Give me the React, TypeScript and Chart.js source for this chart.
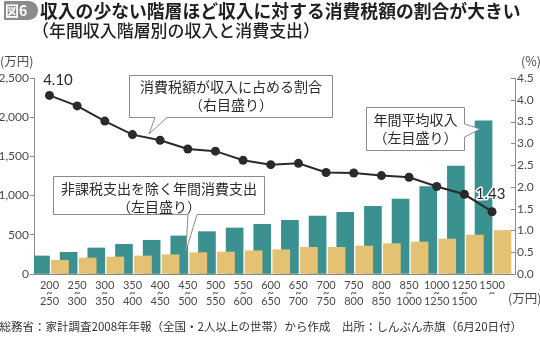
import React, { useEffect, useRef } from "react";
import { Chart, registerables } from "chart.js";

Chart.register(...registerables);

// ---- data ----
const bracketFrom = ["200", "250", "300", "350", "400", "450", "500", "550", "600", "650", "700", "750", "800", "850", "1000", "1250", "1500"];
const bracketTo = ["250", "300", "350", "400", "450", "500", "550", "600", "650", "700", "750", "800", "850", "1000", "1250", "1500", ""];
const annualIncome = [230, 277, 332, 379, 430, 485, 540, 587, 634, 685, 740, 787, 863, 957, 1114, 1378, 1955];
const consumption = [175, 204, 217, 230, 246, 272, 281, 297, 310, 340, 340, 357, 387, 408, 446, 497, 555];
const taxShare = [4.1, 3.86, 3.51, 3.2, 3.07, 2.87, 2.82, 2.61, 2.51, 2.54, 2.33, 2.32, 2.26, 2.22, 2.01, 1.83, 1.43];
const leftMax = 2500;
const leftStep = 500;
const rightMax = 4.5;
const rightStep = 0.5;

// ---- text ----
const BADGE = "図6";
const TITLE = "収入の少ない階層ほど収入に対する消費税額の割合が大きい";
const SUBTITLE = "（年間収入階層別の収入と消費支出）";
const SOURCE = "総務省：家計調査2008年年報（全国・2人以上の世帯）から作成　出所：しんぶん赤旗（6月20日付）";
const LEFT_UNIT = "(万円)";
const RIGHT_UNIT = "(%)";
const X_UNIT = "(万円)";
const NOTE_RATE = ["消費税額が収入に占める割合", "（右目盛り）"];
const NOTE_INCOME = ["年間平均収入", "（左目盛り）"];
const NOTE_SPEND = ["非課税支出を除く年間消費支出", "（左目盛り）"];
const TILDE = "~";

// ---- style ----
const TEAL = "#3a918f";
const YELLOW = "#e5c273";
const LINE = "#2a2a2a";
const AXIS = "#8a8a8a";
const TICK_TEXT = "#4a4a4a";
const TEXT = "#2b2b2b";
const CJK = "'Noto Sans CJK JP', 'Noto Sans', sans-serif";
const NUM = "Lato, 'Noto Sans', sans-serif";

const X_MIN = -0.56;
const X_MAX = 16.83;
const SHIFT = 2 / 27.66;

function fitText(ctx: CanvasRenderingContext2D, text: string, x: number, y: number, width: number, weight: string, family: string, base: number) {
  ctx.font = `${weight} ${base}px ${family}`;
  const w = ctx.measureText(text).width;
  const size = (base * width) / w;
  ctx.font = `${weight} ${size.toFixed(2)}px ${family}`;
  ctx.fillText(text, x, y);
}

function callout(ctx: CanvasRenderingContext2D, box: number[], tail: number[], side: "bottom" | "right", lines: string[], ys: number[]) {
  const [x1, y1, x2, y2] = box.map((v) => Math.round(v) + 0.5);
  const [a, b, tx, ty] = tail;
  ctx.beginPath();
  ctx.moveTo(x1, y1);
  ctx.lineTo(x2, y1);
  if (side === "right") {
    ctx.lineTo(x2, a);
    ctx.lineTo(tx, ty);
    ctx.lineTo(x2, b);
    ctx.lineTo(x2, y2);
    ctx.lineTo(x1, y2);
  } else {
    ctx.lineTo(x2, y2);
    ctx.lineTo(b, y2);
    ctx.lineTo(tx, ty);
    ctx.lineTo(a, y2);
    ctx.lineTo(x1, y2);
  }
  ctx.closePath();
  ctx.fillStyle = "#ffffff";
  ctx.fill();
  ctx.strokeStyle = AXIS;
  ctx.lineWidth = 1;
  ctx.stroke();
  ctx.fillStyle = TEXT;
  ctx.font = `400 14px ${CJK}`;
  ctx.textAlign = "center";
  ctx.textBaseline = "middle";
  const cx = (x1 + x2) / 2;
  lines.forEach((l, i) => ctx.fillText(l, cx, ys[i]));
}

const overlay = {
  id: "overlay",
  afterDraw(chart: any) {
    const ctx: CanvasRenderingContext2D = chart.ctx;
    ctx.save();

    // badge
    ctx.beginPath();
    (ctx as any).roundRect(4, 1, 34, 19, [1, 9, 9, 1]);
    ctx.fillStyle = "#8b8b8b";
    ctx.fill();
    ctx.fillStyle = "#ffffff";
    ctx.textBaseline = "middle";
    ctx.textAlign = "left";
    ctx.font = `700 14px ${CJK}`;
    ctx.fillText(BADGE, 5, 11);

    // title & subtitle
    ctx.fillStyle = "#231f20";
    fitText(ctx, TITLE, 40, 11.5, 481, "700", CJK, 18);
    fitText(ctx, SUBTITLE, 32, 31, 288, "500", CJK, 17);

    // units
    ctx.fillStyle = TICK_TEXT;
    ctx.font = `400 12.5px ${CJK}`;
    ctx.fillText(LEFT_UNIT, 0, 61);
    ctx.fillText(RIGHT_UNIT, 521, 61);
    ctx.fillText(X_UNIT, 508, 298);

    // footer
    ctx.fillStyle = "#333333";
    fitText(ctx, SOURCE, -0.5, 327, 523, "400", CJK, 12.5);

    // inner tick marks on right axis
    const r = chart.scales.y1;
    ctx.strokeStyle = AXIS;
    ctx.lineWidth = 1;
    r.ticks.forEach((t: any) => {
      const y = Math.round(r.getPixelForValue(t.value)) + 0.5;
      ctx.beginPath();
      ctx.moveTo(r.left - 4, y);
      ctx.lineTo(r.left, y);
      ctx.stroke();
    });

    // callouts
    callout(ctx, [129, 75, 332, 117], [155, 167, 149, 134], "bottom", NOTE_RATE, [87, 105]);
    callout(ctx, [366, 107, 464, 150], [124, 137, 480, 129], "right", NOTE_INCOME, [120, 137.5]);
    callout(ctx, [53, 176, 264, 214], [188, 197, 186, 251], "bottom", NOTE_SPEND, [188.5, 207]);

    // data labels for first / last rate
    const meta = chart.getDatasetMeta(2);
    const first = meta.data[0];
    const last = meta.data[meta.data.length - 1];
    ctx.font = `400 15px ${NUM}`;
    ctx.textAlign = "center";
    ctx.textBaseline = "middle";
    const lbl = (s: string, x: number, y: number) => {
      ctx.lineWidth = 3;
      ctx.strokeStyle = "#ffffff";
      ctx.lineJoin = "round";
      ctx.strokeText(s, x, y);
      ctx.fillStyle = TEXT;
      ctx.fillText(s, x, y);
    };
    lbl(taxShare[0].toFixed(2), first.x + 8.5, first.y - 15);
    lbl(taxShare[taxShare.length - 1].toFixed(2), last.x - 1.5, last.y - 18);

    ctx.restore();
  },
};

export default function App() {
  const ref = useRef<HTMLCanvasElement>(null);

  useEffect(() => {
    document.body.style.margin = "0";
    const canvas = ref.current!;
    const chart = new Chart(canvas, {
      type: "bar",
      data: {
        datasets: [
          {
            type: "bar",
            data: annualIncome.map((v, i) => ({ x: i, y: v })),
            backgroundColor: TEAL,
            barThickness: 17,
            xAxisID: "x",
            yAxisID: "y",
            order: 3,
          },
          {
            type: "bar",
            data: consumption.map((v, i) => ({ x: i, y: v })),
            backgroundColor: YELLOW,
            barThickness: 17,
            xAxisID: "x2",
            yAxisID: "y",
            order: 2,
          },
          {
            type: "line",
            data: taxShare.map((v, i) => ({ x: i, y: v })),
            borderColor: LINE,
            borderWidth: 2,
            pointRadius: 4.5,
            pointBackgroundColor: LINE,
            pointBorderWidth: 0,
            tension: 0,
            xAxisID: "x",
            yAxisID: "y1",
            order: 1,
          },
        ] as any,
      },
      options: {
        animation: false,
        responsive: false,
        devicePixelRatio: 1,
        layout: { padding: { top: 78, left: 0, right: 0, bottom: 0 } },
        plugins: { legend: { display: false }, tooltip: { enabled: false } },
        scales: {
          x: {
            type: "linear",
            min: X_MIN,
            max: X_MAX,
            offset: false,
            afterBuildTicks: (s: any) => {
              s.ticks = bracketFrom.map((_, i) => ({ value: i }));
            },
            afterFit: (s: any) => {
              s.height = 66;
            },
            grid: { display: false, drawTicks: false },
            border: { display: true, color: AXIS, width: 1 },
            ticks: {
              autoSkip: false,
              maxRotation: 0,
              padding: 7,
              color: TICK_TEXT,
              font: { family: NUM, size: 11, lineHeight: 0.76 },
              callback: (v: any) => {
                const i = Math.round(Number(v));
                const to = bracketTo[i];
                return to ? [bracketFrom[i], TILDE, to] : [bracketFrom[i], TILDE];
              },
            },
          },
          x2: {
            type: "linear",
            display: false,
            min: X_MIN - SHIFT,
            max: X_MAX - SHIFT,
            offset: false,
          },
          y: {
            position: "left",
            min: 0,
            max: leftMax,
            afterFit: (s: any) => {
              s.width = 34;
            },
            grid: { drawOnChartArea: false, drawTicks: true, tickLength: 4, color: AXIS },
            border: { display: true, color: AXIS, width: 1 },
            ticks: {
              stepSize: leftStep,
              padding: 1,
              color: TICK_TEXT,
              font: { family: NUM, size: 12 },
              callback: (v: any) => Number(v).toLocaleString("en-US"),
            },
          },
          y1: {
            position: "right",
            min: 0,
            max: rightMax,
            afterFit: (s: any) => {
              s.width = 25;
            },
            grid: { drawOnChartArea: false, drawTicks: false },
            border: { display: true, color: AXIS, width: 1 },
            ticks: {
              stepSize: rightStep,
              padding: 2,
              color: TICK_TEXT,
              font: { family: NUM, size: 12 },
              callback: (v: any) => Number(v).toFixed(1),
            },
          },
        },
      } as any,
      plugins: [overlay],
    });
    if ((document as any).fonts && (document as any).fonts.ready) {
      (document as any).fonts.ready.then(() => chart.update());
    }
    return () => chart.destroy();
  }, []);

  return (
    <div style={{ position: "absolute", left: 0, top: 0, width: 540, height: 340, background: "#ffffff" }}>
      <canvas ref={ref} width={540} height={340} style={{ width: 540, height: 340, display: "block" }} />
    </div>
  );
}
